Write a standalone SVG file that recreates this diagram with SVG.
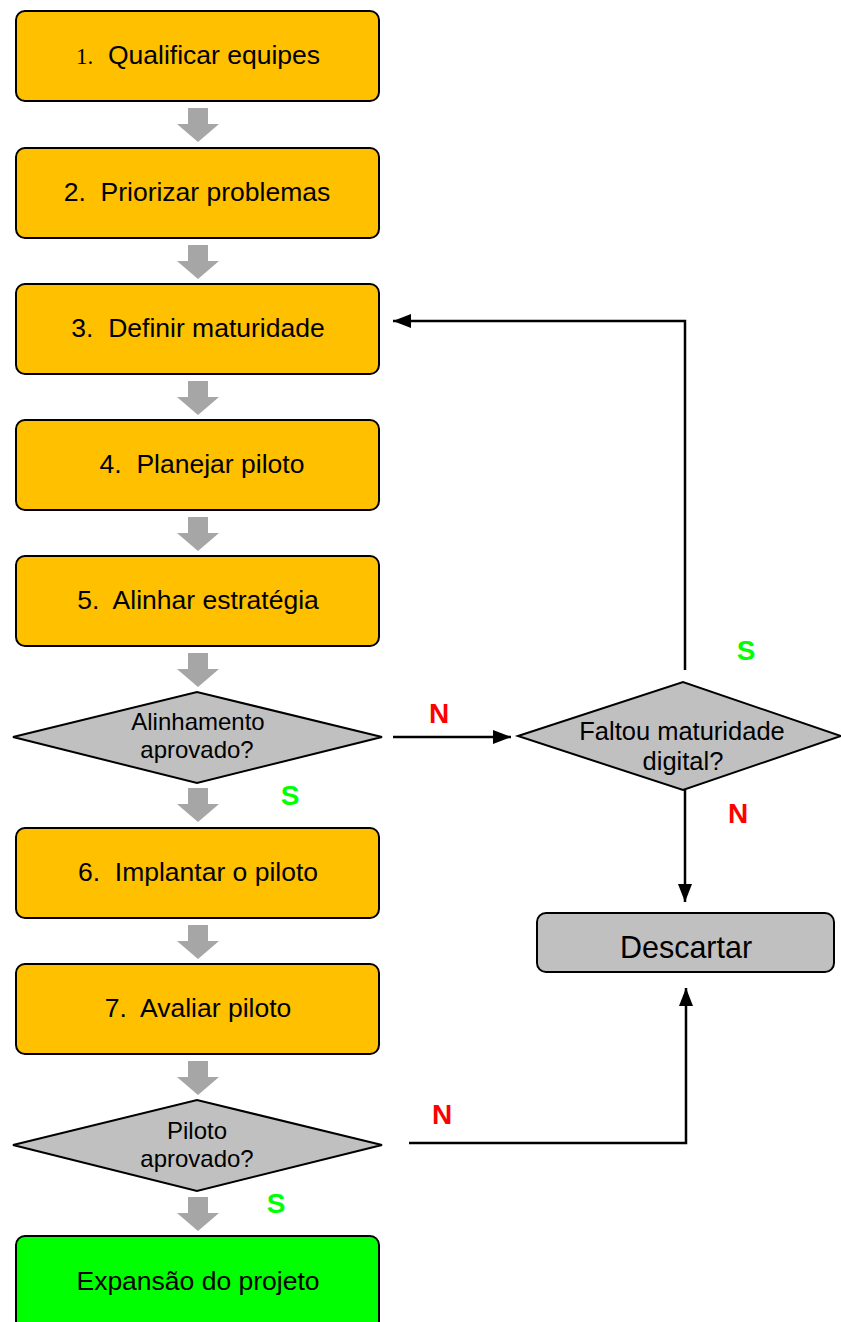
<svg xmlns="http://www.w3.org/2000/svg" width="841" height="1322" viewBox="0 0 841 1322">
<defs>
<style>
.box{fill:#FFC000;stroke:#000;stroke-width:2}
.green{fill:#00FF00;stroke:#000;stroke-width:2}
.gray{fill:#C0C0C0;stroke:#000;stroke-width:2}
.t{font-family:"Liberation Sans",Arial,sans-serif;font-size:26.5px;fill:#000;text-anchor:middle;white-space:pre}
.d{font-family:"Liberation Sans",Arial,sans-serif;font-size:24px;fill:#000;text-anchor:middle}
.n{font-family:"Liberation Sans",Arial,sans-serif;font-size:28px;font-weight:bold;fill:#FF0000;text-anchor:middle}
.s{font-family:"Liberation Sans",Arial,sans-serif;font-size:28px;font-weight:bold;fill:#00FF00;text-anchor:middle}
.ln{fill:none;stroke:#000;stroke-width:2.5}
.ga{fill:#A6A6A6}
</style>
<marker id="ah2" viewBox="0 0 18 14" refX="18" refY="7" markerWidth="18" markerHeight="14" markerUnits="userSpaceOnUse" orient="auto">
<path d="M0,0 L18,7 L0,14 z" fill="#000"/>
</marker>
<path id="ga" class="ga" d="M188,0 H208 V16 H219 L198,34 L177,16 H188 Z"/>
</defs>
<rect width="841" height="1322" fill="#fff"/>

<g id="connectors">
<use href="#ga" y="108"/>
<use href="#ga" y="245"/>
<use href="#ga" y="381"/>
<use href="#ga" y="517"/>
<use href="#ga" y="653"/>
<use href="#ga" y="788"/>
<use href="#ga" y="925"/>
<use href="#ga" y="1061"/>
<use href="#ga" y="1197"/>
<path class="ln" d="M393,737 H511" marker-end="url(#ah2)"/>
<path class="ln" d="M685,670 V321 H393" marker-end="url(#ah2)"/>
<path class="ln" d="M685,790 V902" marker-end="url(#ah2)"/>
<path class="ln" d="M409,1143 H686 V988" marker-end="url(#ah2)"/>
<text class="n" x="439" y="723">N</text>
<text class="s" x="746" y="660">S</text>
<text class="n" x="738" y="823">N</text>
<text class="s" x="290" y="805">S</text>
<text class="n" x="442" y="1124">N</text>
<text class="s" x="276" y="1213">S</text>
</g>

<g id="n1"><rect class="box" x="16" y="11" width="363" height="90" rx="9"/><text class="t" x="198" y="64"><tspan font-family="Liberation Serif" font-size="23">1.</tspan>  Qualificar equipes</text></g>
<g id="n2"><rect class="box" x="16" y="148" width="363" height="90" rx="9"/><text class="t" x="197" y="201">2.  Priorizar problemas</text></g>
<g id="n3"><rect class="box" x="16" y="284" width="363" height="90" rx="9"/><text class="t" x="198" y="337">3.  Definir maturidade</text></g>
<g id="n4"><rect class="box" x="16" y="420" width="363" height="90" rx="9"/><text class="t" x="202" y="473">4.  Planejar piloto</text></g>
<g id="n5"><rect class="box" x="16" y="556" width="363" height="90" rx="9"/><text class="t" x="198" y="609">5.  Alinhar estratégia</text></g>
<g id="d1"><path class="gray" d="M13,737 L197,692 L382,737 L197,783 Z"/><text class="d" x="198" y="730">Alinhamento</text><text class="d" x="197" y="758">aprovado?</text></g>
<g id="d2"><path class="gray" d="M518,736 L683,682 L841,736 L683,790 Z"/><text class="d" x="682" y="740" style="font-size:25.5px">Faltou maturidade</text><text class="d" x="683" y="770" style="font-size:25.5px">digital?</text></g>
<g id="n6"><rect class="box" x="16" y="828" width="363" height="90" rx="9"/><text class="t" x="198" y="881">6.  Implantar o piloto</text></g>
<g id="discard"><rect class="gray" x="537" y="913" width="297" height="59" rx="9"/><text class="t" x="686" y="958" style="font-size:30.5px">Descartar</text></g>
<g id="n7"><rect class="box" x="16" y="964" width="363" height="90" rx="9"/><text class="t" x="198" y="1017">7.  Avaliar piloto</text></g>
<g id="d3"><path class="gray" d="M13,1145 L197,1100 L382,1145 L197,1191 Z"/><text class="d" x="197" y="1139">Piloto</text><text class="d" x="197" y="1167">aprovado?</text></g>
<g id="n8"><rect class="green" x="16" y="1236" width="363" height="96" rx="9"/><text class="t" x="198" y="1290">Expansão do projeto</text></g>
</svg>
